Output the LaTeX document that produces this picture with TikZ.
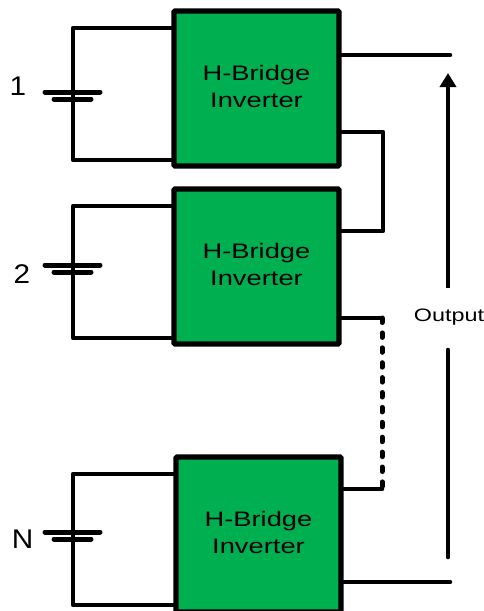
\documentclass[tikz,border=0pt]{standalone}
\usepackage{fontspec}
\setmainfont{Liberation Sans}
\newfontfamily\widefont[FakeStretch=1.3]{Liberation Sans}
\newfontfamily\labelfont[FakeStretch=1.1]{Liberation Sans}
\usetikzlibrary{arrows.meta}
\newcommand{\invtext}{\raisebox{1pt}{\begin{tabular}{@{}c@{}}H-Bridge\\[1pt]Inverter\end{tabular}}}
\tikzset{
  inverter/.style={draw=black,fill=invgreen,line width=5.2pt,minimum width=165pt,minimum height=155pt,outer sep=0pt,inner sep=0pt,rounded corners=1pt,font=\widefont\fontsize{21}{26}\selectfont},
  wire/.style={line width=4.6pt,line cap=round,line join=round},
  plate/.style={line width=5pt,line cap=round},
  num/.style={font=\labelfont\fontsize{27}{30}\selectfont,inner sep=0pt},
  outlab/.style={font=\widefont\fontsize{18}{20}\selectfont,inner sep=0pt},
  dotwire/.style={line width=5pt,line cap=round,dash pattern=on 4.5pt off 10.4pt}
}
\definecolor{invgreen}{RGB}{0,175,80}
\begin{document}
\begin{tikzpicture}[x=1pt,y=-1pt]
\useasboundingbox (0,0) rectangle (484,611);
\clip (0,0) rectangle (484,611);
% battery wires and plates: corners
\coordinate (b1t) at (73,28); \coordinate (b1b) at (73,160);
\coordinate (b2t) at (73,206); \coordinate (b2b) at (73,338);
\coordinate (b3t) at (73,474); \coordinate (b3b) at (73,605);
\coordinate (p1a) at (45,92); \coordinate (p1b) at (100,92);
\coordinate (q1a) at (54,99); \coordinate (q1b) at (91,99);
\coordinate (p2a) at (45,265); \coordinate (p2b) at (100,265);
\coordinate (q2a) at (54,272); \coordinate (q2b) at (91,272);
\coordinate (p3a) at (45,532); \coordinate (p3b) at (100,532);
\coordinate (q3a) at (54,539); \coordinate (q3b) at (91,539);
% wires behind the boxes
\draw[wire] (174,28) -- (b1t) -- (b1b) -- (174,160);
\draw[wire] (174,206) -- (b2t) -- (b2b) -- (174,338);
\draw[wire] (176,474) -- (b3t) -- (b3b) -- (176,605);
\foreach \i in {1,2,3}{
  \draw[plate] (p\i a) -- (p\i b);
  \draw[plate] (q\i a) -- (q\i b);
}
% boxes
\node[inverter] (box1) at (256.5,88.5) {\invtext};
\node[inverter] (box2) at (256.5,266.5) {\invtext};
\node[inverter] (box3) at (258.5,534.5) {\invtext};
% labels
\node[num] (n1) at (18,86) {1};
\node[num] (n2) at (22,274) {2};
\node[num] (nN) at (22.5,539) {N};
\node[outlab] (out) at (449,317) {Output};
% series links
\coordinate (l1) at (383,132); \coordinate (l2) at (383,231);
\draw[wire] (box1.east |- l1) -- (l1) -- (l2) -- (box2.east |- l2);
\coordinate (d1) at (382,318); \coordinate (d2) at (382,489);
\draw[wire] (box2.east |- d1) -- (d1);
\draw[wire] (box3.east |- d2) -- (d2);
\draw[dotwire] (d1) -- (d2);
% output
\coordinate (o1) at (450,55); \coordinate (o2) at (450,582);
\draw[wire] (box1.east |- o1) -- (o1);
\draw[wire] (box3.east |- o2) -- (o2);
\coordinate (a1) at (448,288); \coordinate (a2) at (448,73);
\coordinate (a3) at (448,350); \coordinate (a4) at (448,557);
\draw[wire,line cap=butt,-{Triangle[length=14pt,width=16pt]}] (a1) -- (a2);
\draw[wire] (a3) -- (a4);
\end{tikzpicture}
\end{document}
